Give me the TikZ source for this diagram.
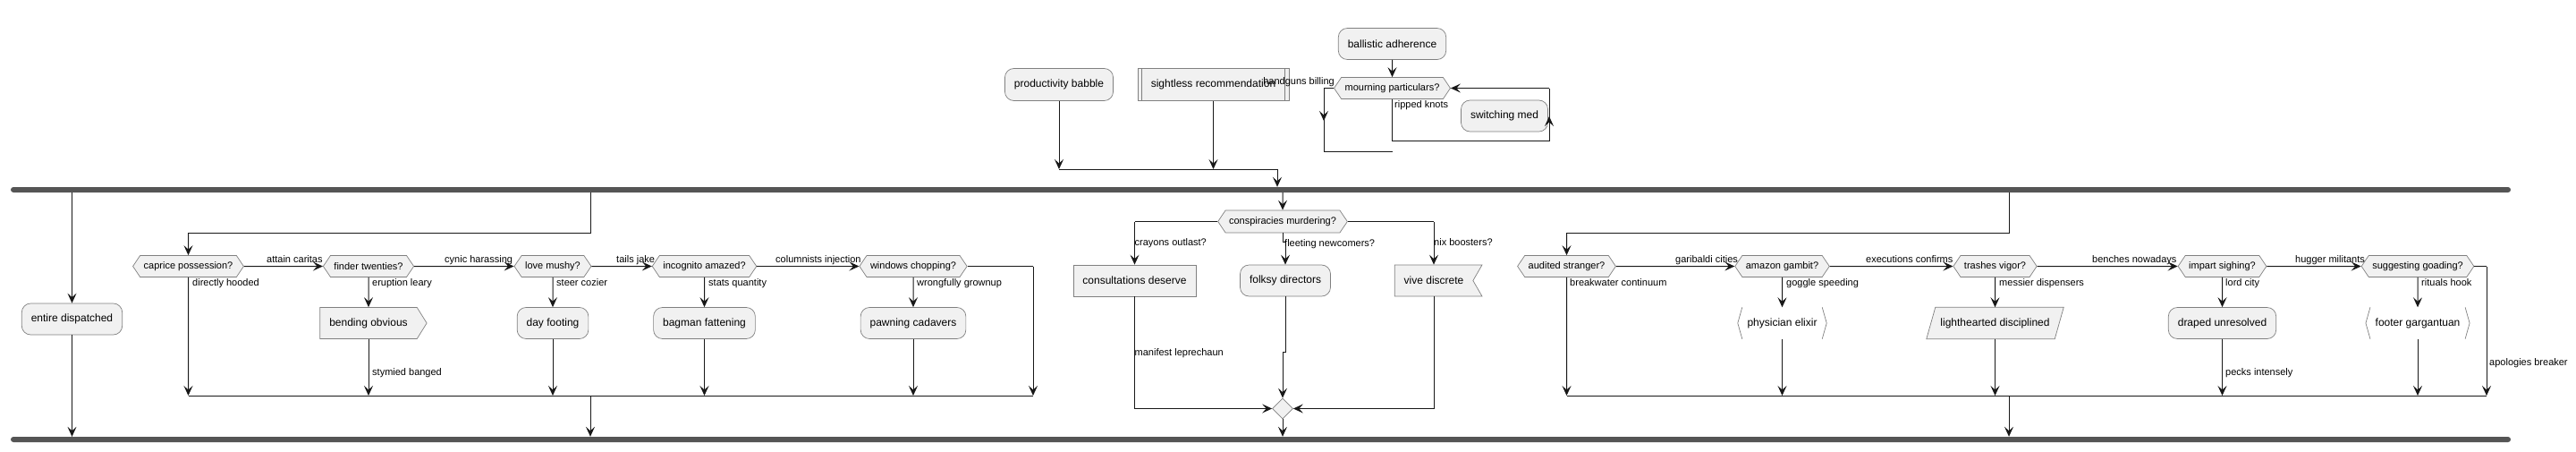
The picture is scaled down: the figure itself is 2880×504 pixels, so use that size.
\documentclass[tikz,border=0pt]{standalone}
\usepackage{fontspec}
\setmainfont{Liberation Sans}
\usepackage{tikz}
\usetikzlibrary{positioning}
\usetikzlibrary{arrows.meta}
\usetikzlibrary{shapes.geometric}
\usetikzlibrary{shapes.symbols}
\usetikzlibrary{backgrounds}

\definecolor{boxfill}{HTML}{F1F1F1}
\definecolor{boxline}{HTML}{181818}
\definecolor{boxedge}{HTML}{808080}
\definecolor{barfill}{HTML}{555555}

\begin{document}
\begin{tikzpicture}[x=1pt, y=-1pt]
        \tikzstyle{actnode}=[rectangle, rounded corners=10pt, fill=boxfill,
            draw=boxedge, line width=0.7pt, minimum height=35pt,
            inner xsep=10.5pt, inner ysep=0pt, font=\fontsize{12}{14}\selectfont]
        \tikzstyle{rectnode}=[actnode, rounded corners=0pt]
        \tikzstyle{sendnode}=[rectnode, signal, signal to=east, signal pointer angle=116]
        \tikzstyle{recvnode}=[rectnode, signal, signal to=nowhere, signal from=east,
            signal pointer angle=120]
        \tikzstyle{brknode}=[rectangle, minimum height=35pt, inner xsep=10.5pt,
            inner ysep=0pt, font=\fontsize{12}{14}\selectfont]
        \tikzstyle{qnode}=[signal, signal to=west and east, signal pointer angle=112,
            fill=boxfill, draw=boxedge, line width=0.7pt, minimum height=24pt,
            inner xsep=4pt, inner ysep=0pt, font=\fontsize{11}{13}\selectfont]
        \tikzstyle{lbl}=[inner sep=0pt, anchor=west, text height=8pt, text depth=2.5pt,
            font=\fontsize{11}{13}\selectfont]
        \tikzstyle{flow}=[line width=1pt, draw=boxline]
        \tikzstyle{arr}=[flow, -{Stealth[length=11pt, width=10pt, inset=4.5pt]}]
        \tikzstyle{barnode}=[fill=barfill, rounded corners=3pt, minimum width=2795pt,
            minimum height=6pt, inner sep=0pt]

        \useasboundingbox (0,0) rectangle (2880,504);

        % fork and join bars
        \node[barnode] (fork) at (1409.5,212) {};
        \node[barnode] (join) at (1409.5,491) {};

        % top part
        \node[actnode, minimum height=36pt] (pb) at (1184,94.5) {productivity babble};
        \node[rectnode, minimum height=36pt, minimum width=169pt] (sr) at (1356.5,94.5) {sightless recommendation};
        \draw[boxedge, line width=0.7pt] ([xshift=5pt]sr.north west) -- ([xshift=5pt]sr.south west)
            ([xshift=-5pt]sr.north east) -- ([xshift=-5pt]sr.south east);
        \coordinate (pbm) at (1184,189);
        \coordinate (srm) at (1356.5,189);
        \coordinate (tm) at (1428,189);
        \draw[arr] (pb) -- (pbm);
        \draw[arr] (sr) -- (srm);
        \draw[flow] (pbm) -- (tm);
        \draw[arr] (tm) -- (tm |- fork.north);

        \node[actnode] (ba) at (1556.5,49) {ballistic adherence};
        \node[qnode] (mp) at (1556.5,98.5) {mourning particulars?};
        \node[actnode] (sm) at (1682,129.5) {switching med};
        \draw[arr] (ba) -- (mp);
        \node[lbl, anchor=east] (hb) at (1492,92) {handguns billing};
        \node[lbl] (rk) at (1559,118) {ripped knots};
        \coordinate (mpl) at (1480,98.5);
        \coordinate (mpa) at (1480,135);
        \coordinate (mpd) at (1480,169);
        \coordinate (mpe) at (1557,169);
        \draw[flow] (mp.west) -- (mpl) -- (mpd) -- (mpe);
        \draw[arr] (mpl) -- (mpa);
        \coordinate (rk1) at (1556.5,157);
        \coordinate (rk2) at (1732,157);
        \coordinate (rka) at (1732,130);
        \coordinate (rk3) at (1732,98.5);
        \draw[flow] (mp.south) -- (rk1) -- (rk2) -- (rk3);
        \draw[arr] (rk2) -- (rka);
        \draw[arr] (rk3) -- (mp.east);

        % first branch
        \node[actnode] (ed) at (80.5,356.5) {entire dispatched};
        \draw[arr] (ed.north |- fork.south) -- (ed);
        \draw[arr] (ed) -- (ed.south |- join.north);

        % second branch
        \coordinate (bf1) at (660,260);
        \coordinate (bf2) at (210.5,260);
        \coordinate (bm1) at (210.5,442);
        \coordinate (bm2) at (1155,442);
        \coordinate (bmc) at (660,442);
        \node[qnode] (cp) at (210.5,297.5) {caprice possession?};
        \draw[flow] (bf1 |- fork.south) -- (bf1) -- (bf2);
        \draw[arr] (bf2) -- (cp);
        \draw[arr] (cp) -- (bm1);
        \node[lbl] (l1) at (215,317) {directly hooded};
        \draw[flow] (bm1) -- (bm2);
        \draw[arr] (bmc) -- (bmc |- join.north);

        \node[qnode] (ft) at (412,297.5) {finder twenties?};
        \draw[arr] (cp) -- (ft);
        \node[lbl] (l2) at (298,291) {attain caritas};
        \node[sendnode] (bo) at (412,361) {bending obvious};
        \draw[arr] (ft) -- (bo);
        \node[lbl] (l3) at (416,317) {eruption leary};
        \draw[arr] (bo) -- (bo.south |- bm1);
        \node[lbl] (l4) at (416,417) {stymied banged};

        \node[qnode] (lm) at (618,297.5) {love mushy?};
        \draw[arr] (ft) -- (lm);
        \node[lbl] (l5) at (497,291) {cynic harassing};
        \node[actnode] (df) at (618,361) {day footing};
        \draw[arr] (lm) -- (df);
        \node[lbl] (l6) at (622,317) {steer cozier};
        \draw[arr] (df) -- (df.south |- bm1);

        \node[qnode] (ia) at (787.5,297.5) {incognito amazed?};
        \draw[arr] (lm) -- (ia);
        \node[lbl] (l7) at (689,291) {tails jake};
        \node[actnode] (bg) at (787.5,361) {bagman fattening};
        \draw[arr] (ia) -- (bg);
        \node[lbl] (l8) at (792,317) {stats quantity};
        \draw[arr] (bg) -- (bg.south |- bm1);

        \node[qnode] (wc) at (1021,297.5) {windows chopping?};
        \draw[arr] (ia) -- (wc);
        \node[lbl] (l9) at (867,291) {columnists injection};
        \node[actnode] (pc) at (1021,361) {pawning cadavers};
        \draw[arr] (wc) -- (pc);
        \node[lbl] (l10) at (1025,317) {wrongfully grownup};
        \draw[arr] (pc) -- (pc.south |- bm1);
        \coordinate (wcr) at (1155,297.5);
        \draw[flow] (wc.east) -- (wcr);
        \draw[arr] (wcr) -- (bm2);

        % third branch
        \node[qnode, minimum height=25pt] (cm) at (1434,247.5) {conspiracies murdering?};
        \draw[arr] (cm.north |- fork.south) -- (cm);
        \node[diamond, fill=boxfill, draw=boxedge, line width=0.7pt,
            minimum size=23pt, inner sep=0pt] (dm) at (1434,456.5) {};
        \draw[arr] (dm) -- (dm.south |- join.north);

        \node[rectnode] (cd) at (1268.5,313.5) {consultations deserve};
        \coordinate (cml) at (1268.5,247.5);
        \coordinate (cdb) at (1268.5,456.5);
        \draw[flow] (cm.west) -- (cml);
        \draw[arr] (cml) -- (cd);
        \node[lbl] (l11) at (1268.5,272) {crayons outlast?};
        \draw[flow] (cd) -- (cdb);
        \draw[arr] (cdb) -- (dm);
        \node[lbl] (l12) at (1268.5,395) {manifest leprechaun};

        \node[actnode] (fd) at (1437,313.5) {folksy directors};
        \coordinate (cmb1) at (1434,270);
        \coordinate (cmb2) at (1437,270);
        \coordinate (fdb1) at (1437,393);
        \coordinate (fdb2) at (1434,393);
        \draw[flow] (cm.south) -- (cmb1) -- (cmb2);
        \draw[arr] (cmb2) -- (fd);
        \node[lbl] (l13) at (1436,273) {fleeting newcomers?};
        \draw[flow] (fd) -- (fdb1) -- (fdb2);
        \draw[arr] (fdb2) -- (dm);

        \node[recvnode] (vd) at (1603,313.5) {vive discrete};
        \coordinate (cmr) at (1603,247.5);
        \coordinate (vdb) at (1603,456.5);
        \draw[flow] (cm.east) -- (cmr);
        \draw[arr] (cmr) -- (vd.north);
        \node[lbl] (l14) at (1603,272) {nix boosters?};
        \draw[flow] (vd.south) -- (vdb);
        \draw[arr] (vdb) -- (dm);

        % fourth branch
        \coordinate (df1) at (2246,260);
        \coordinate (df2) at (1751.5,260);
        \coordinate (dm1) at (1751.5,442);
        \coordinate (dm2) at (2780,442);
        \coordinate (dmc) at (2246,442);
        \node[qnode] (as) at (1751.5,297.5) {audited stranger?};
        \draw[flow] (df1 |- fork.south) -- (df1) -- (df2);
        \draw[arr] (df2) -- (as);
        \draw[arr] (as) -- (dm1);
        \node[lbl] (l15) at (1755,317) {breakwater continuum};
        \draw[flow] (dm1) -- (dm2);
        \draw[arr] (dmc) -- (dmc |- join.north);

        \node[qnode] (ag) at (1992.5,297.5) {amazon gambit?};
        \draw[arr] (as) -- (ag);
        \node[lbl] (l16) at (1873,291) {garibaldi cities};
        \node[brknode] (pe) at (1992.5,361) {physician elixir};
        \draw[boxedge, line width=0.7pt] ([xshift=5pt]pe.north west) -- (pe.west) -- ([xshift=5pt]pe.south west)
            ([xshift=-5pt]pe.north east) -- (pe.east) -- ([xshift=-5pt]pe.south east);
        \draw[arr] (ag) -- (pe);
        \node[lbl] (l17) at (1997,317) {goggle speeding};
        \draw[arr] (pe) -- (pe.south |- dm1);

        \node[qnode] (tv) at (2230.5,297.5) {trashes vigor?};
        \draw[arr] (ag) -- (tv);
        \node[lbl] (l18) at (2086,291) {executions confirms};
        \node[brknode, minimum width=140pt] (ld) at (2230.5,361) {lighthearted disciplined};
        \begin{scope}[on background layer]
            \filldraw[fill=boxfill, draw=boxedge, line width=0.7pt]
                ([xshift=5pt]ld.north west) -- ([xshift=5pt]ld.north east)
                -- ([xshift=-5pt]ld.south east) -- ([xshift=-5pt]ld.south west) -- cycle;
        \end{scope}
        \draw[arr] (tv) -- (ld);
        \node[lbl] (l19) at (2235,317) {messier dispensers};
        \draw[arr] (ld) -- (ld.south |- dm1);

        \node[qnode] (is) at (2484.5,297.5) {impart sighing?};
        \draw[arr] (tv) -- (is);
        \node[lbl] (l20) at (2339,291) {benches nowadays};
        \node[actnode] (du) at (2484.5,361) {draped unresolved};
        \draw[arr] (is) -- (du);
        \node[lbl] (l21) at (2488,317) {lord city};
        \draw[arr] (du) -- (du.south |- dm1);
        \node[lbl] (l22) at (2488,417) {pecks intensely};

        \node[qnode] (sg) at (2703,297.5) {suggesting goading?};
        \draw[arr] (is) -- (sg);
        \node[lbl] (l23) at (2566,291) {hugger militants};
        \node[brknode] (fg) at (2703,361) {footer gargantuan};
        \draw[boxedge, line width=0.7pt] ([xshift=5pt]fg.north west) -- (fg.west) -- ([xshift=5pt]fg.south west)
            ([xshift=-5pt]fg.north east) -- (fg.east) -- ([xshift=-5pt]fg.south east);
        \draw[arr] (sg) -- (fg);
        \node[lbl] (l24) at (2707,317) {rituals hook};
        \draw[arr] (fg) -- (fg.south |- dm1);
        \coordinate (sgr) at (2780,297.5);
        \draw[flow] (sg.east) -- (sgr);
        \draw[arr] (sgr) -- (dm2);
        \node[lbl] (l25) at (2783,406) {apologies breaker};
\end{tikzpicture}
\end{document}
